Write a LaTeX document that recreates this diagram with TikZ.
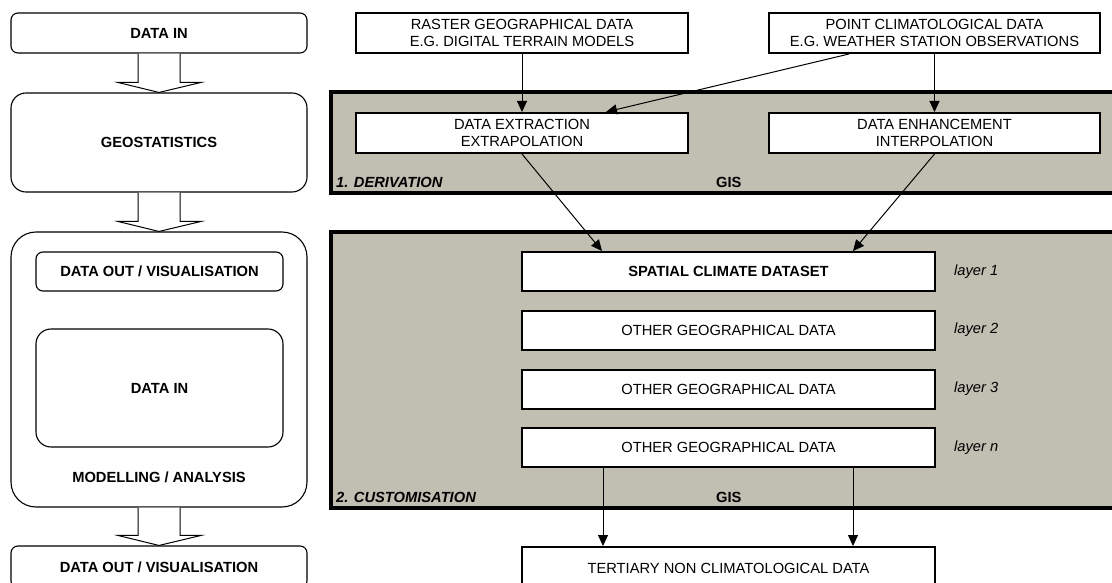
\documentclass[tikz,border=0pt]{standalone}
\usepackage{fontspec}
\setmainfont{Liberation Sans}
\usetikzlibrary{arrows.meta,calc}
\definecolor{panel}{RGB}{193,190,178}
\newcommand{\fsz}{\fontsize{14.7}{17.5}\selectfont}
\begin{document}
\begin{tikzpicture}[x=1pt,y=-1pt,
  every node/.style={font=\fsz, inner sep=0pt, align=center},
  lbox/.style={draw, line width=1.1pt, fill=white, rounded corners=#1},
  rbox/.style={draw, line width=2pt, fill=white},
  panelbox/.style={draw, line width=3.5pt, fill=panel},
  conn/.style={line width=1pt, -{Triangle[length=11pt,width=10pt]}},
  blockarrow/.style={draw, line width=1pt, fill=white, line join=miter},
  bold/.style={font=\fsz\bfseries},
  lab/.style={font=\fsz\bfseries\itshape, anchor=west},
  gis/.style={font=\fsz\bfseries, anchor=west},
  layer/.style={font=\fsz\itshape, anchor=west}]
\clip (0,0) rectangle (1112,583);
\fill[white] (0,0) rectangle (1112,583);

% ---------- left column ----------
\node[lbox=7pt, minimum width=296pt, minimum height=40pt, bold] (din) at (159,33) {DATA IN};
\node[lbox=15pt, minimum width=296pt, minimum height=99pt, bold] (geo) at (159,142.5) {GEOSTATISTICS};
\node[lbox=25pt, minimum width=296pt, minimum height=275pt] (model) at (159,369.5) {};
\node[lbox=7pt, minimum width=247pt, minimum height=39pt, bold] (mout) at (159.5,271.5) {DATA OUT / VISUALISATION};
\node[lbox=15pt, minimum width=247pt, minimum height=118pt, bold] (min) at (159.5,388) {DATA IN};
\node[bold] (mlab) at (159,477) {MODELLING / ANALYSIS};
\node[lbox=7pt, minimum width=296pt, minimum height=42pt, bold] (dout) at (159,567) {DATA OUT / VISUALISATION};

% block arrows
\foreach \a/\b in {din/geo, geo/model, model/dout}{
  \draw[blockarrow] ([xshift=-21pt]\a.south) -- ([xshift=-21pt,yshift=10pt]\b.north)
    -- ([xshift=-41pt,yshift=10pt]\b.north) -- (\b.north)
    -- ([xshift=42pt,yshift=10pt]\b.north) -- ([xshift=21pt,yshift=10pt]\b.north)
    -- ([xshift=21pt]\a.south);
}

% ---------- right side ----------
\node[panelbox, minimum width=785pt, minimum height=101pt] (deriv) at (723.5,142.5) {};
\node[panelbox, minimum width=785pt, minimum height=276pt] (cust) at (723.5,370) {};

\node[rbox, minimum width=332pt, minimum height=40pt] (raster) at (522,33) {RASTER GEOGRAPHICAL DATA\\E.G. DIGITAL TERRAIN MODELS};
\node[rbox, minimum width=331pt, minimum height=40pt] (point) at (934.5,33) {POINT CLIMATOLOGICAL DATA\\E.G. WEATHER STATION OBSERVATIONS};
\node[rbox, minimum width=332pt, minimum height=40pt] (extract) at (522,133) {DATA EXTRACTION\\EXTRAPOLATION};
\node[rbox, minimum width=331pt, minimum height=40pt] (enhance) at (934.5,133) {DATA ENHANCEMENT\\INTERPOLATION};
\node[lab] (derivlab) at (336,182) {1. DERIVATION};
\node[gis] (gis1) at (716,182) {GIS};

\node[rbox, minimum width=413pt, minimum height=39pt, bold] (spatial) at (728.5,271.5) {SPATIAL CLIMATE DATASET};
\node[rbox, minimum width=413pt, minimum height=39pt] (o2) at (728.5,330) {OTHER GEOGRAPHICAL DATA};
\node[rbox, minimum width=413pt, minimum height=39pt] (o3) at (728.5,389) {OTHER GEOGRAPHICAL DATA};
\node[rbox, minimum width=413pt, minimum height=39pt] (on) at (728.5,447.5) {OTHER GEOGRAPHICAL DATA};
\node[layer] (l1) at (954,271.5) {layer 1};
\node[layer] (l2) at (954,330) {layer 2};
\node[layer] (l3) at (954,389) {layer 3};
\node[layer] (ln) at (954,447.5) {layer n};
\node[lab] (custlab) at (336,497) {2. CUSTOMISATION};
\node[gis] (gis2) at (716,497) {GIS};

\node[rbox, minimum width=413pt, minimum height=43pt] (tert) at (728.5,568.5) {TERTIARY NON CLIMATOLOGICAL DATA};

% connectors
\draw[conn] (raster.south) -- (extract.north);
\draw[conn] (point.south) -- (enhance.north);
\draw[conn] ([xshift=81pt]point.south west) -- ([xshift=-83pt]extract.north east);
\draw[conn] (extract.south) -- ([xshift=81pt]spatial.north west);
\draw[conn] (enhance.south) -- ([xshift=-83pt]spatial.north east);
\draw[conn] ([xshift=82pt]on.south west) -- ([xshift=82pt]tert.north west);
\draw[conn] ([xshift=-83pt]on.south east) -- ([xshift=-83pt]tert.north east);
\end{tikzpicture}
\end{document}
